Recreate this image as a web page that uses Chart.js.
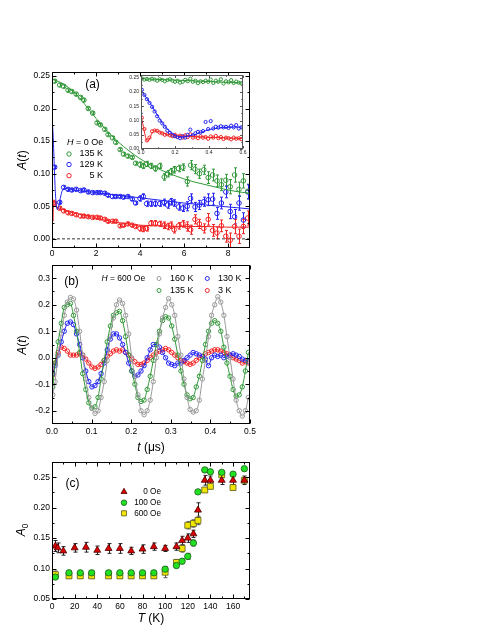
<!DOCTYPE html>
<html>
<head>
<meta charset="utf-8">
<title>Asymmetry spectra</title>
<script src="https://cdn.jsdelivr.net/npm/chart.js@4.4.1/dist/chart.umd.min.js"></script>
<style>
  html, body { margin: 0; padding: 0; background: #fff; }
  body { position: relative; width: 491px; height: 635px; overflow: hidden; }
  canvas { position: absolute; }
</style>
</head>
<body>
<canvas id="chartA" width="260" height="200" style="left:0;top:60px"></canvas>
<canvas id="chartInset" width="132" height="90" style="left:118px;top:70px"></canvas>
<canvas id="chartB" width="260" height="200" style="left:0;top:255px"></canvas>
<canvas id="chartC" width="260" height="183" style="left:0;top:452px"></canvas>
<script>
// ---- panel (a): zero field, long times ----
const tA = [0.12, 0.35, 0.53, 0.73, 0.9, 1.1, 1.3, 1.45, 1.65, 1.85, 2.05, 2.2, 2.4, 2.55, 2.75, 2.9, 3.1, 3.25, 3.45, 3.65,
  3.8, 4.0, 4.15, 4.3, 4.5, 4.7, 4.9, 5.1, 5.25, 5.4, 5.55, 5.75, 5.95, 6.15, 6.3, 6.5, 6.7, 6.9, 7.1, 7.3,
  7.5, 7.7, 7.9, 8.1, 8.3, 8.5, 8.7, 8.9];
const zf135 = [0.242, 0.236, 0.234, 0.228, 0.226, 0.222, 0.217, 0.213, 0.2, 0.193, 0.178, 0.175, 0.168, 0.16, 0.155, 0.148, 0.137, 0.13, 0.127, 0.125,
  0.116, 0.114, 0.112, 0.115, 0.112, 0.108, 0.112, 0.095, 0.1, 0.103, 0.106, 0.108, 0.11, 0.088, 0.113, 0.107, 0.1, 0.106, 0.094, 0.098,
  0.089, 0.083, 0.09, 0.08, 0.098, 0.076, 0.089, 0.073];
const zf129 = [0.11, 0.056, 0.079, 0.076, 0.075, 0.076, 0.074, 0.075, 0.072, 0.071, 0.071, 0.071, 0.07, 0.067, 0.065, 0.065, 0.065, 0.064, 0.065, 0.061,
  0.055, 0.062, 0.065, 0.054, 0.054, 0.054, 0.054, 0.056, 0.052, 0.057, 0.055, 0.049, 0.047, 0.05, 0.062, 0.049, 0.052, 0.057, 0.06, 0.061,
  0.039, 0.055, 0.072, 0.042, 0.034, 0.055, 0.029, 0.072];
const zf5 = [0.055, 0.047, 0.043, 0.04, 0.039, 0.037, 0.035, 0.035, 0.034, 0.033, 0.033, 0.032, 0.03, 0.027, 0.027, 0.027, 0.02, 0.021, 0.023, 0.021,
  0.019, 0.016, 0.015, 0.016, 0.024, 0.024, 0.023, 0.021, 0.019, 0.021, 0.014, 0.02, 0.023, 0.019, 0.014, 0.03, 0.023, 0.016, 0.03, 0.013,
  0.009, 0.02, 0.004, -0.002, 0.019, 0.004, 0.019, 0.032];
const errA = [0.002, 0.002, 0.002, 0.002, 0.002, 0.002, 0.002, 0.002, 0.002, 0.002, 0.002, 0.002, 0.002, 0.002, 0.002, 0.002, 0.002, 0.002, 0.002, 0.002,
  0.002, 0.004, 0.004, 0.004, 0.004, 0.004, 0.004, 0.005, 0.005, 0.005, 0.005, 0.005, 0.005, 0.007, 0.007, 0.007, 0.007, 0.007, 0.009, 0.009,
  0.009, 0.009, 0.009, 0.011, 0.011, 0.011, 0.011, 0.011];
const fitT135 = [0, 0.5, 1, 1.5, 2, 2.5, 3, 3.5, 4, 4.5, 5, 5.5, 6, 6.5, 7, 7.5, 8, 8.5, 9];
const fit135 = [0.245, 0.238, 0.225, 0.206, 0.185, 0.166, 0.149, 0.135, 0.123, 0.113, 0.105, 0.098, 0.092, 0.087, 0.083, 0.079, 0.075, 0.072, 0.07];
const fitT129 = [0, 0.05, 0.1, 0.15, 0.2, 0.25, 0.3, 0.4, 0.5, 0.7, 1, 2, 3, 4, 5, 6, 7, 8, 9];
const fit129 = [0.185, 0.16, 0.115, 0.073, 0.05, 0.045, 0.049, 0.066, 0.076, 0.077, 0.075, 0.071, 0.067, 0.063, 0.059, 0.055, 0.052, 0.049, 0.046];
const fitT5 = [0, 0.02, 0.04, 0.06, 0.08, 0.12, 0.2, 0.5, 1, 1.5, 2, 2.5, 3, 3.5, 4, 5, 6, 7, 8, 9];
const fit5 = [0.078, 0.05, 0.027, 0.045, 0.06, 0.056, 0.05, 0.045, 0.04, 0.036, 0.032, 0.028, 0.025, 0.023, 0.021, 0.02, 0.019, 0.019, 0.018, 0.018];
const zeroLineT = [0, 9];
const zeroLineA = [0, 0];

// ---- inset: zero field, first 0.6 us ----
const tIn = [0.005, 0.02, 0.035, 0.05, 0.065, 0.08, 0.095, 0.11, 0.125, 0.14, 0.155, 0.17, 0.185, 0.2, 0.215, 0.23, 0.245, 0.26, 0.275, 0.29,
  0.305, 0.32, 0.335, 0.35, 0.365, 0.38, 0.395, 0.41, 0.425, 0.44, 0.455, 0.47, 0.485, 0.5, 0.515, 0.53, 0.545, 0.56, 0.575, 0.59];
const in135 = [0.248, 0.244, 0.246, 0.243, 0.247, 0.244, 0.24, 0.245, 0.243, 0.238, 0.242, 0.245, 0.24, 0.236, 0.24, 0.233, 0.236, 0.243, 0.238, 0.247,
  0.236, 0.24, 0.231, 0.238, 0.235, 0.24, 0.236, 0.244, 0.232, 0.24, 0.236, 0.245, 0.23, 0.238, 0.234, 0.242, 0.232, 0.237, 0.233, 0.231];
const in129 = [0.208, 0.19, 0.175, 0.162, 0.148, 0.132, 0.115, 0.1, 0.09, 0.078, 0.065, 0.057, 0.05, 0.045, 0.042, 0.038, 0.045, 0.04, 0.05, 0.068,
  0.048, 0.055, 0.06, 0.058, 0.063, 0.095, 0.07, 0.098, 0.072, 0.078, 0.075, 0.08, 0.076, 0.078, 0.074, 0.082, 0.076, 0.084, 0.072, 0.076];
const in5 = [0.11, 0.07, 0.03, 0.04, 0.062, 0.065, 0.064, 0.058, 0.055, 0.05, 0.052, 0.048, 0.045, 0.05, 0.043, 0.047, 0.04, 0.048, 0.042, 0.052,
  0.04, 0.044, 0.038, 0.045, 0.04, 0.042, 0.036, 0.044, 0.04, 0.046, 0.038, 0.042, 0.035, 0.04, 0.038, 0.034, 0.04, 0.036, 0.038, 0.035];
const fitTIn135 = [0, 0.2, 0.4, 0.6];
const fitIn135 = [0.247, 0.242, 0.237, 0.232];
const fitTIn129 = [0, 0.05, 0.1, 0.15, 0.2, 0.25, 0.3, 0.35, 0.4, 0.45, 0.5, 0.6];
const fitIn129 = [0.205, 0.165, 0.115, 0.073, 0.048, 0.043, 0.048, 0.058, 0.068, 0.073, 0.076, 0.077];
const fitTIn5 = [0, 0.01, 0.02, 0.03, 0.04, 0.05, 0.06, 0.07, 0.08, 0.1, 0.12, 0.15, 0.2, 0.3, 0.4, 0.5, 0.6];
const fitIn5 = [0.115, 0.09, 0.06, 0.035, 0.027, 0.035, 0.05, 0.06, 0.064, 0.062, 0.057, 0.052, 0.048, 0.044, 0.041, 0.039, 0.037];

// ---- panel (b): 600 Oe transverse field ----
const tB = [0.002, 0.0078, 0.0155, 0.0233, 0.031, 0.0388, 0.0465, 0.0543, 0.062, 0.0698,
  0.0775, 0.0853, 0.093, 0.1008, 0.1085, 0.1163, 0.124, 0.1318, 0.1395, 0.1473,
  0.155, 0.1628, 0.1705, 0.1783, 0.186, 0.1938, 0.2015, 0.2093, 0.217, 0.2248,
  0.2325, 0.2403, 0.248, 0.2558, 0.2635, 0.2713, 0.279, 0.2868, 0.2945, 0.3023,
  0.31, 0.3178, 0.3255, 0.3333, 0.341, 0.3488, 0.3565, 0.3643, 0.372, 0.3798,
  0.3875, 0.3953, 0.403, 0.4108, 0.4185, 0.4263, 0.434, 0.4418, 0.4495, 0.4573,
  0.465, 0.4728, 0.4805, 0.4883, 0.496];
const tf160 = [-0.14, -0.09, 0.01, 0.09, 0.16, 0.21, 0.228, 0.222, 0.18, 0.1,
  0.01, -0.08, -0.15, -0.19, -0.21, -0.2, -0.15, -0.09, -0.01, 0.08,
  0.15, 0.2, 0.218, 0.205, 0.16, 0.09, 0.0, -0.07, -0.14, -0.2,
  -0.215, -0.2, -0.16, -0.09, 0.0, 0.09, 0.15, 0.19, 0.223, 0.2,
  0.16, 0.08, 0.01, -0.08, -0.15, -0.195, -0.205, -0.2, -0.16, -0.08,
  -0.01, 0.08, 0.16, 0.2, 0.23, 0.21, 0.16, 0.08, 0.0, -0.08,
  -0.16, -0.2, -0.22, -0.2, -0.15];
const tf135 = [-0.11, -0.02, 0.06, 0.13, 0.19, 0.2, 0.205, 0.16, 0.1, 0.02,
  -0.06, -0.12, -0.17, -0.19, -0.185, -0.15, -0.08, -0.01, 0.06, 0.12,
  0.16, 0.17, 0.175, 0.14, 0.08, 0.01, -0.05, -0.1, -0.15, -0.165,
  -0.16, -0.12, -0.07, -0.01, 0.05, 0.1, 0.14, 0.155, 0.15, 0.12,
  0.07, 0.01, -0.05, -0.1, -0.14, -0.155, -0.15, -0.11, -0.07, -0.01,
  0.05, 0.1, 0.13, 0.14, 0.13, 0.1, 0.04, -0.02, -0.07, -0.12,
  -0.145, -0.14, -0.11, -0.05, 0.02];
const tf130 = [-0.06, -0.03, 0.01, 0.06, 0.1, 0.13, 0.135, 0.125, 0.09, 0.05,
  0.0, -0.05, -0.09, -0.11, -0.105, -0.09, -0.06, -0.02, 0.03, 0.07,
  0.09, 0.09, 0.075, 0.05, 0.02, -0.02, -0.05, -0.07, -0.065, -0.05,
  -0.03, 0.0, 0.03, 0.05, 0.05, 0.04, 0.02, 0.0, -0.02, -0.025,
  -0.03, -0.02, -0.02, -0.01, 0.0, 0.01, 0.02, 0.015, 0.01, 0.005,
  -0.005, -0.03, 0.0, 0.01, 0.005, 0.01, 0.0, 0.005, 0.01, 0.015,
  0.01, 0.005, -0.005, -0.01, -0.015];
const tf3 = [-0.065, -0.02, 0.02, 0.04, 0.035, 0.025, 0.01, 0.01, 0.01, 0.015,
  0.01, -0.005, -0.02, -0.035, -0.04, -0.035, -0.025, -0.01, 0.005, 0.015,
  0.025, 0.03, 0.025, 0.03, 0.02, 0.01, -0.005, -0.015, -0.025, -0.025,
  -0.02, -0.01, 0.0, 0.01, 0.02, 0.025, 0.03, 0.035, 0.03, 0.02,
  0.01, 0.0, -0.01, -0.015, -0.02, -0.025, -0.02, -0.01, 0.0, 0.005,
  0.015, 0.02, 0.025, 0.03, 0.03, 0.025, 0.02, 0.015, 0.01, 0.0,
  -0.005, -0.01, -0.02, -0.015, -0.02];

// ---- panel (c): initial asymmetry vs temperature ----
const tempZero = [3, 5, 10, 20, 30, 40, 50, 60, 70, 80, 90, 100, 110, 115, 120, 125, 129, 135, 140, 150, 160, 170];
const a0Zero = [0.137, 0.134, 0.129, 0.134, 0.135, 0.13, 0.133, 0.133, 0.129, 0.132, 0.136, 0.133, 0.136, 0.146, 0.15, 0.157, 0.196, 0.245, 0.245, 0.245, 0.245, 0.245];
const errZero = [0.009, 0.008, 0.007, 0.007, 0.008, 0.007, 0.008, 0.008, 0.006, 0.007, 0.006, 0.005, 0.006, 0.007, 0.007, 0.006, 0.012, 0.008, 0.007, 0.007, 0.007, 0.007];
const tempField = [3, 15, 25, 35, 50, 60, 70, 80, 90, 100, 110, 115, 120, 125, 129, 135, 140, 150, 160, 170];
const a0Hundred = [0.086, 0.093, 0.093, 0.093, 0.093, 0.093, 0.093, 0.093, 0.093, 0.099, 0.105, 0.112, 0.12, 0.142, 0.226, 0.262, 0.259, 0.258, 0.255, 0.264];
const errHundred = [0.003, 0.003, 0.003, 0.003, 0.003, 0.003, 0.003, 0.003, 0.003, 0.004, 0.004, 0.004, 0.005, 0.005, 0.003, 0.003, 0.003, 0.003, 0.003, 0.003];
const a0SixHundred = [0.09, 0.088, 0.088, 0.088, 0.088, 0.088, 0.088, 0.088, 0.088, 0.094, 0.11, 0.133, 0.171, 0.174, 0.179, 0.229, 0.235, 0.254, 0.233, 0.245];
const errSixHundred = [0.006, 0.004, 0.004, 0.004, 0.004, 0.004, 0.004, 0.004, 0.004, 0.009, 0.005, 0.006, 0.006, 0.006, 0.007, 0.004, 0.004, 0.004, 0.004, 0.004];

// tick labels
const xTicksA = [0, 2, 4, 6, 8], yTicksA = [0, 0.05, 0.1, 0.15, 0.2, 0.25];
const xTicksIn = [0, 0.2, 0.4, 0.6], yTicksIn = [0, 0.05, 0.1, 0.15, 0.2, 0.25];
const xTicksB = [0, 0.1, 0.2, 0.3, 0.4, 0.5], yTicksB = [-0.2, -0.1, 0, 0.1, 0.2, 0.3];
const xTicksC = [0, 20, 40, 60, 80, 100, 120, 140, 160], yTicksC = [0.05, 0.1, 0.15, 0.2, 0.25];

const FONT = '"Liberation Sans", Arial, Helvetica, sans-serif';
const GREEN = '#33993a', BLUE = '#2424f2', RED = '#f22424', GRAY = '#9a9a9a';
Chart.defaults.font.family = FONT;
Chart.defaults.color = '#000';

function pts(xs, ys) { return xs.map((x, i) => ({ x: x, y: ys[i] })); }

// parts: [text, style] with style 1 = italic, 2 = subscript
function richText(c, parts, x, y, size, align, rot) {
  c.save();
  c.translate(x, y);
  if (rot) c.rotate(rot);
  c.textBaseline = 'middle';
  c.fillStyle = '#000';
  const fontOf = p => (p[1] === 1 ? 'italic ' : '') + (p[1] === 2 ? size * 0.7 : size) + 'px ' + FONT;
  const w = parts.map(p => { c.font = fontOf(p); return c.measureText(p[0]).width; });
  const total = w.reduce((s, v) => s + v, 0);
  let cx = align === 'center' ? -total / 2 : align === 'right' ? -total : 0;
  parts.forEach((p, k) => {
    c.font = fontOf(p);
    c.fillText(p[0], cx, p[1] === 2 ? size * 0.3 : 0);
    cx += w[k];
  });
  c.restore();
}

function drawMarker(c, m, x, y) {
  c.save();
  c.lineWidth = m.lw || 1;
  c.strokeStyle = m.stroke;
  c.fillStyle = m.fill || 'rgba(0,0,0,0)';
  c.beginPath();
  if (m.shape === 'triangle') {
    for (let k = 0; k < 3; k++) {
      const ang = k * 2 * Math.PI / 3;
      const px = x + Math.sin(ang) * m.r, py = y - Math.cos(ang) * m.r;
      k ? c.lineTo(px, py) : c.moveTo(px, py);
    }
    c.closePath();
  } else if (m.shape === 'rect') {
    const s = m.r * Math.SQRT1_2;
    c.rect(x - s, y - s, 2 * s, 2 * s);
  } else {
    c.arc(x, y, m.r, 0, Math.PI * 2);
  }
  if (m.fill) c.fill();
  c.stroke();
  c.restore();
}

function minorTicks(scale) {
  const maj = scale.ticks.map(t => t.value);
  const step = maj[1] - maj[0], eps = (scale.max - scale.min) * 1e-6;
  const out = [];
  for (let i = 0; i < maj.length - 1; i++) out.push((maj[i] + maj[i + 1]) / 2);
  const lo = maj[0] - step / 2, hi = maj[maj.length - 1] + step / 2;
  if (lo > scale.min + eps) out.push(lo);
  if (hi < scale.max - eps) out.push(hi);
  return { maj, out };
}

const decor = {
  id: 'decor',
  beforeDraw(chart, args, o) {
    if (!o.fill) return;
    const a = chart.chartArea, c = chart.ctx;
    c.save();
    c.fillStyle = o.fill;
    c.fillRect(a.left, a.top, a.right - a.left, a.bottom - a.top);
    c.restore();
  },
  beforeDatasetsDraw(chart) {
    const c = chart.ctx, a = chart.chartArea, ys = chart.scales.y;
    c.save();
    c.beginPath();
    c.rect(a.left, a.top, a.right - a.left, a.bottom - a.top);
    c.clip();
    chart.data.datasets.forEach((ds, i) => {
      if (!ds.err) return;
      const meta = chart.getDatasetMeta(i);
      c.strokeStyle = ds.errColor;
      c.lineWidth = 1;
      c.beginPath();
      meta.data.forEach((el, j) => {
        const v = ds.data[j].y, e = ds.err[j];
        const x = Math.round(el.x) + 0.5;
        const y1 = ys.getPixelForValue(v - e), y2 = ys.getPixelForValue(v + e);
        c.moveTo(x, y1); c.lineTo(x, y2);
        if (ds.cap) {
          c.moveTo(x - ds.cap, y1); c.lineTo(x + ds.cap, y1);
          c.moveTo(x - ds.cap, y2); c.lineTo(x + ds.cap, y2);
        }
      });
      c.stroke();
    });
    c.restore();
  },
  afterDatasetsDraw(chart, args, o) {
    const c = chart.ctx, a = chart.chartArea, xs = chart.scales.x, ys = chart.scales.y;
    const L = o.tick || 4, l = L / 2;
    const left = Math.round(a.left) + 0.5, right = Math.round(a.right) - 0.5;
    const top = Math.round(a.top) + 0.5, bottom = Math.round(a.bottom) - 0.5;
    c.save();
    c.strokeStyle = o.color || '#000';
    c.lineWidth = 1;
    c.strokeRect(left, top, right - left, bottom - top);
    c.beginPath();
    const tx = minorTicks(xs), ty = minorTicks(ys);
    const vx = (v, len) => {
      const p = Math.round(xs.getPixelForValue(v)) + 0.5;
      c.moveTo(p, bottom); c.lineTo(p, bottom - len);
      c.moveTo(p, top); c.lineTo(p, top + len);
    };
    const vy = (v, len) => {
      const p = Math.round(ys.getPixelForValue(v)) + 0.5;
      c.moveTo(left, p); c.lineTo(left + len, p);
      c.moveTo(right, p); c.lineTo(right - len, p);
    };
    tx.maj.forEach(v => vx(v, L)); tx.out.forEach(v => vx(v, l));
    ty.maj.forEach(v => vy(v, L)); ty.out.forEach(v => vy(v, l));
    c.stroke();
    c.restore();
  },
  afterDraw(chart, args, o) {
    if (!o.notes) return;
    const c = chart.ctx, ox = chart.canvas.offsetLeft, oy = chart.canvas.offsetTop;
    o.notes.forEach(n => {
      if (n.marker) drawMarker(c, n.marker, n.x - ox, n.y - oy);
      else richText(c, n.parts, n.x - ox, n.y - oy, n.size, n.align || 'left', n.rot || 0);
    });
  }
};

function axis(min, max, ticks, dec, fixed, horizontal, size, pad, color) {
  return {
    type: 'linear', min: min, max: max,
    grid: { display: false, drawTicks: false },
    border: { display: false },
    ticks: { font: { size: size }, padding: pad, autoSkip: false, maxRotation: 0, color: color || '#000',
      callback: v => Number(v).toFixed(dec) },
    afterBuildTicks: s => { s.ticks = ticks.map(v => ({ value: v })); },
    afterFit: s => { if (horizontal) s.height = fixed; else s.width = fixed; }
  };
}

function openPts(xs, ys, color, r, err) {
  return {
    data: pts(xs, ys), showLine: false,
    pointStyle: 'circle', pointRadius: r, pointBorderWidth: 1, borderWidth: 1,
    pointBorderColor: color, borderColor: color,
    pointBackgroundColor: 'rgba(0,0,0,0)', backgroundColor: 'rgba(0,0,0,0)',
    err: err, errColor: color, cap: 1.5
  };
}

function curve(xs, ys, color, dash) {
  return {
    data: pts(xs, ys), showLine: true, pointRadius: 0, borderWidth: 1,
    borderColor: color, backgroundColor: color, borderDash: dash || [],
    cubicInterpolationMode: 'monotone', fill: false
  };
}

function filled(xs, ys, shape, r, fill, edge, err, errColor) {
  return {
    data: pts(xs, ys), showLine: false,
    pointStyle: shape, pointRadius: r, pointBorderWidth: 0.8, borderWidth: 0.8,
    pointBorderColor: edge, borderColor: edge,
    pointBackgroundColor: fill, backgroundColor: fill,
    err: err, errColor: errColor, cap: 2
  };
}

function makeChart(id, datasets, xAxis, yAxis, pad, decorOpts) {
  return new Chart(document.getElementById(id), {
    type: 'scatter',
    data: { datasets: datasets },
    options: {
      responsive: false, animation: false, devicePixelRatio: 1, events: [],
      layout: { padding: pad },
      plugins: { legend: { display: false }, tooltip: { enabled: false }, decor: decorOpts },
      scales: { x: xAxis, y: yAxis }
    },
    plugins: [decor]
  });
}

const ROT = -Math.PI / 2;

// panel (a)
makeChart('chartA', [
  curve(fitT135, fit135, GREEN),
  curve(fitT129, fit129, BLUE),
  curve(fitT5, fit5, RED),
  openPts(tA, zf135, GREEN, 2.3, errA),
  openPts(tA, zf129, BLUE, 2.3, errA),
  openPts(tA, zf5, RED, 2.3, errA),
  curve(zeroLineT, zeroLineA, '#333', [3, 2])
],
  axis(0, 9, xTicksA, 0, 12, true, 8.5, 1),
  axis(-0.014, 0.256, yTicksA, 2, 52, false, 8.5, 2),
  { left: 0, right: 10, top: 12, bottom: 0 },
  { notes: [
    { parts: [['(a)']], x: 92.5, y: 85, size: 12, align: 'center' },
    { parts: [['H', 1], [' = 0 Oe']], x: 67, y: 142.7, size: 9 },
    { marker: { shape: 'circle', r: 2.2, stroke: GREEN }, x: 69, y: 154 },
    { parts: [['135 K']], x: 103, y: 154, size: 9, align: 'right' },
    { marker: { shape: 'circle', r: 2.2, stroke: BLUE }, x: 69, y: 164.5 },
    { parts: [['129 K']], x: 103, y: 164.5, size: 9, align: 'right' },
    { marker: { shape: 'circle', r: 2.2, stroke: RED }, x: 69, y: 175.7 },
    { parts: [['5 K']], x: 103, y: 175.7, size: 9, align: 'right' },
    { parts: [['A', 1], ['('], ['t', 1], [')']], x: 23, y: 160, size: 12, align: 'center', rot: ROT }
  ] });

// inset of panel (a)
makeChart('chartInset', [
  curve(fitTIn135, fitIn135, GREEN),
  curve(fitTIn129, fitIn129, BLUE),
  curve(fitTIn5, fitIn5, RED),
  openPts(tIn, in135, GREEN, 1.6),
  openPts(tIn, in129, BLUE, 1.6),
  openPts(tIn, in5, RED, 1.6)
],
  axis(0, 0.6, xTicksIn, 1, 11, true, 5, 1, '#222'),
  axis(0, 0.26, yTicksIn, 2, 23, false, 5, 2, '#222'),
  { left: 0, right: 7, top: 4, bottom: 0 },
  { fill: '#fff', color: '#555', tick: 2.5 });

// panel (b)
makeChart('chartB', [
  curve(tB, tf160, GRAY),
  curve(tB, tf135, GREEN),
  curve(tB, tf130, BLUE),
  curve(tB, tf3, RED),
  openPts(tB, tf160, GRAY, 2.2),
  openPts(tB, tf135, GREEN, 2.2),
  openPts(tB, tf130, BLUE, 2.2),
  openPts(tB, tf3, RED, 2.2)
],
  axis(0, 0.5, xTicksB, 1, 31, true, 8.5, 3),
  axis(-0.25, 0.35, yTicksB, 1, 52, false, 8.5, 2),
  { left: 0, right: 10, top: 10, bottom: 0 },
  { notes: [
    { parts: [['(b)']], x: 71.5, y: 282, size: 12, align: 'center' },
    { parts: [['H', 1], [' = 600 Oe']], x: 101.5, y: 278.5, size: 8.5 },
    { marker: { shape: 'circle', r: 2, stroke: GRAY }, x: 159, y: 278.5 },
    { parts: [['160 K']], x: 170, y: 278.5, size: 9 },
    { marker: { shape: 'circle', r: 2, stroke: BLUE }, x: 207.3, y: 278.5 },
    { parts: [['130 K']], x: 218, y: 278.5, size: 9 },
    { marker: { shape: 'circle', r: 2, stroke: GREEN }, x: 159, y: 290.5 },
    { parts: [['135 K']], x: 170, y: 290.5, size: 9 },
    { marker: { shape: 'circle', r: 2, stroke: RED }, x: 207.3, y: 290.5 },
    { parts: [['3 K']], x: 218, y: 290.5, size: 9 },
    { parts: [['A', 1], ['('], ['t', 1], [')']], x: 23, y: 345, size: 12, align: 'center', rot: ROT },
    { parts: [['t', 1], [' (\u03bcs)']], x: 151, y: 448, size: 12, align: 'center' }
  ] });

// panel (c)
const TRI_FILL = '#dd0000', TRI_EDGE = '#4a0000';
const CIR_FILL = '#22e022', CIR_EDGE = '#1c5c1c';
const SQ_FILL = '#f2e600', SQ_EDGE = '#5a5a20';
makeChart('chartC', [
  filled(tempZero, a0Zero, 'triangle', 4, TRI_FILL, TRI_EDGE, errZero, '#222'),
  filled(tempField, a0Hundred, 'circle', 3.2, CIR_FILL, CIR_EDGE, errHundred, '#555'),
  filled(tempField, a0SixHundred, 'rect', 4.2, SQ_FILL, SQ_EDGE, errSixHundred, '#555')
],
  axis(0, 175, xTicksC, 0, 36, true, 8.5, 3),
  axis(0.05, 0.275, yTicksC, 2, 52, false, 8.5, 2),
  { left: 0, right: 10, top: 10, bottom: 0 },
  { notes: [
    { parts: [['(c)']], x: 72.5, y: 484, size: 12, align: 'center' },
    { marker: { shape: 'triangle', r: 3.5, stroke: TRI_EDGE, fill: TRI_FILL, lw: 0.8 }, x: 124, y: 491.8 },
    { parts: [['0 Oe']], x: 161, y: 491.3, size: 8.2, align: 'right' },
    { marker: { shape: 'circle', r: 2.8, stroke: CIR_EDGE, fill: CIR_FILL, lw: 0.8 }, x: 124, y: 502.7 },
    { parts: [['100 Oe']], x: 161, y: 502.7, size: 8.2, align: 'right' },
    { marker: { shape: 'rect', r: 3.6, stroke: SQ_EDGE, fill: SQ_FILL, lw: 0.8 }, x: 124, y: 513.3 },
    { parts: [['600 Oe']], x: 161, y: 513.3, size: 8.2, align: 'right' },
    { parts: [['A', 1], ['0', 2]], x: 22, y: 530, size: 12, align: 'center', rot: ROT },
    { parts: [['T', 1], [' (K)']], x: 151, y: 619, size: 12, align: 'center' }
  ] });
</script>
</body>
</html>
